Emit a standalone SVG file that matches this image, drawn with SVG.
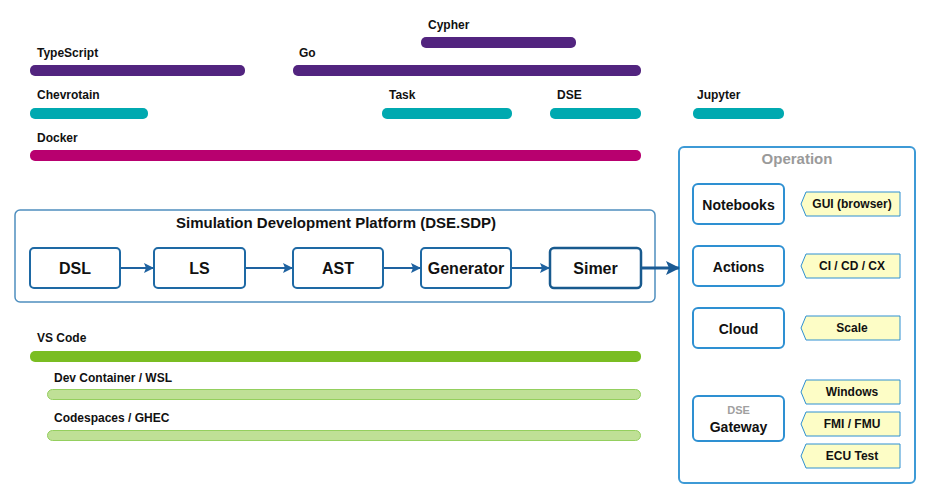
<svg xmlns="http://www.w3.org/2000/svg" width="931" height="499" viewBox="0 0 931 499">
<style>
text{font-family:"Liberation Sans",Arial,sans-serif;font-weight:bold;fill:#111}
.lbl{font-size:12px}
.purple{fill:#52247f}
.teal{fill:#00a9b0}
.mag{fill:#b8006f}
.green{fill:#7abd22}
.lgreen{fill:#bfe096;stroke:#94cf5e;stroke-width:1}
.node rect{fill:#fff;stroke:#1e69a4;stroke-width:2}
.node text{font-size:16px;text-anchor:middle}
.op rect{fill:#fff;stroke:#2e90d2;stroke-width:2}
.op text{font-size:14px;text-anchor:middle}
.tag polygon{fill:#fdfdc6;stroke:#2e90d2;stroke-width:1}
.tag text{font-size:12px;text-anchor:middle}
.conn{stroke:#1e62a0;stroke-width:2;fill:none}
</style>
<defs>
<marker id="ah" markerWidth="10" markerHeight="10" refX="9" refY="5" orient="auto" markerUnits="userSpaceOnUse">
<path d="M0,0 L10,5 L0,10 L2,5 Z" fill="#1e62a0"/>
</marker>
<marker id="ah2" markerWidth="14" markerHeight="14" refX="13" refY="7" orient="auto" markerUnits="userSpaceOnUse">
<path d="M0,0 L14,7 L0,14 L3,7 Z" fill="#1a5a94"/>
</marker>
</defs>

<g id="bars">
<text class="lbl" x="428" y="29">Cypher</text>
<rect class="purple" x="421" y="37" width="155" height="11" rx="5"/>
<text class="lbl" x="37" y="57">TypeScript</text>
<rect class="purple" x="30" y="65" width="215" height="11" rx="5"/>
<text class="lbl" x="299" y="57">Go</text>
<rect class="purple" x="293" y="65" width="348" height="11" rx="5"/>
<text class="lbl" x="37" y="99">Chevrotain</text>
<rect class="teal" x="30" y="108" width="118" height="11" rx="5"/>
<text class="lbl" x="389" y="99">Task</text>
<rect class="teal" x="382" y="108" width="130" height="11" rx="5"/>
<text class="lbl" x="557" y="99">DSE</text>
<rect class="teal" x="550" y="108" width="91" height="11" rx="5"/>
<text class="lbl" x="697" y="99">Jupyter</text>
<rect class="teal" x="693" y="108" width="91" height="11" rx="5"/>
<text class="lbl" x="37" y="142">Docker</text>
<rect class="mag" x="30" y="150" width="611" height="11" rx="5"/>
<text class="lbl" x="37" y="342">VS Code</text>
<rect class="green" x="30" y="351" width="611" height="11" rx="5"/>
<text class="lbl" x="54" y="382">Dev Container / WSL</text>
<rect class="lgreen" x="47.5" y="389.5" width="593" height="10" rx="5"/>
<text class="lbl" x="54" y="422">Codespaces / GHEC</text>
<rect class="lgreen" x="47.5" y="430.5" width="593" height="10" rx="5"/>
</g>

<g id="sdp">
<rect x="15" y="210" width="640" height="92" rx="5" fill="#fff" stroke="#4f8fbf" stroke-width="1.5"/>
<text x="336" y="228" font-size="15" text-anchor="middle">Simulation Development Platform (DSE.SDP)</text>
</g>
<g id="dsl" class="node"><rect x="30" y="248" width="90" height="40" rx="4"/><text x="75" y="274">DSL</text></g>
<g id="ls" class="node"><rect x="154" y="248" width="91" height="40" rx="4"/><text x="199.5" y="274">LS</text></g>
<g id="ast" class="node"><rect x="293" y="248" width="90" height="40" rx="4"/><text x="338" y="274">AST</text></g>
<g id="generator" class="node"><rect x="421" y="248" width="90" height="40" rx="4"/><text x="466" y="274">Generator</text></g>
<g id="simer" class="node"><rect x="550" y="248" width="91" height="40" rx="4" style="stroke:#185a8e;stroke-width:2.5"/><text x="595.5" y="274">Simer</text></g>

<g id="operation">
<rect x="679" y="147" width="236" height="336" rx="5" fill="#fff" stroke="#3d9ad6" stroke-width="2"/>
<text x="797" y="164" font-size="15" text-anchor="middle" style="fill:#9a9a9a">Operation</text>
</g>
<g id="notebooks" class="op"><rect x="693" y="184" width="91" height="40" rx="5"/><text x="738.5" y="210">Notebooks</text></g>
<g id="actions" class="op"><rect x="693" y="246" width="91" height="40" rx="5"/><text x="738.5" y="272">Actions</text></g>
<g id="cloud" class="op"><rect x="693" y="308" width="91" height="40" rx="5"/><text x="738.5" y="334">Cloud</text></g>
<g id="gateway" class="op"><rect x="693" y="396" width="91" height="45" rx="5"/><text x="738.5" y="414" style="font-size:11px;fill:#a0a0a0">DSE</text><text x="738.5" y="432">Gateway</text></g>

<g id="tag-gui" class="tag"><polygon points="806,192 900,192 900,216 806,216 801,204"/><text x="852" y="208">GUI (browser)</text></g>
<g id="tag-ci" class="tag"><polygon points="806,254 900,254 900,278 806,278 801,266"/><text x="852" y="270">CI / CD / CX</text></g>
<g id="tag-scale" class="tag"><polygon points="806,316 900,316 900,340 806,340 801,328"/><text x="852" y="332">Scale</text></g>
<g id="tag-windows" class="tag"><polygon points="806,380 900,380 900,404 806,404 801,392"/><text x="852" y="396">Windows</text></g>
<g id="tag-fmi" class="tag"><polygon points="806,412 900,412 900,436 806,436 801,424"/><text x="852" y="428">FMI / FMU</text></g>
<g id="tag-ecu" class="tag"><polygon points="806,444 900,444 900,468 806,468 801,456"/><text x="852" y="460">ECU Test</text></g>

<g id="connectors">
<line class="conn" x1="121" y1="268" x2="153" y2="268" marker-end="url(#ah)"/>
<line class="conn" x1="246" y1="268" x2="292" y2="268" marker-end="url(#ah)"/>
<line class="conn" x1="384" y1="268" x2="420" y2="268" marker-end="url(#ah)"/>
<line class="conn" x1="512" y1="268" x2="549" y2="268" marker-end="url(#ah)"/>
<line class="conn" x1="642" y1="268" x2="679" y2="268" marker-end="url(#ah2)" style="stroke:#1a5a94;stroke-width:3"/>
</g>
</svg>
